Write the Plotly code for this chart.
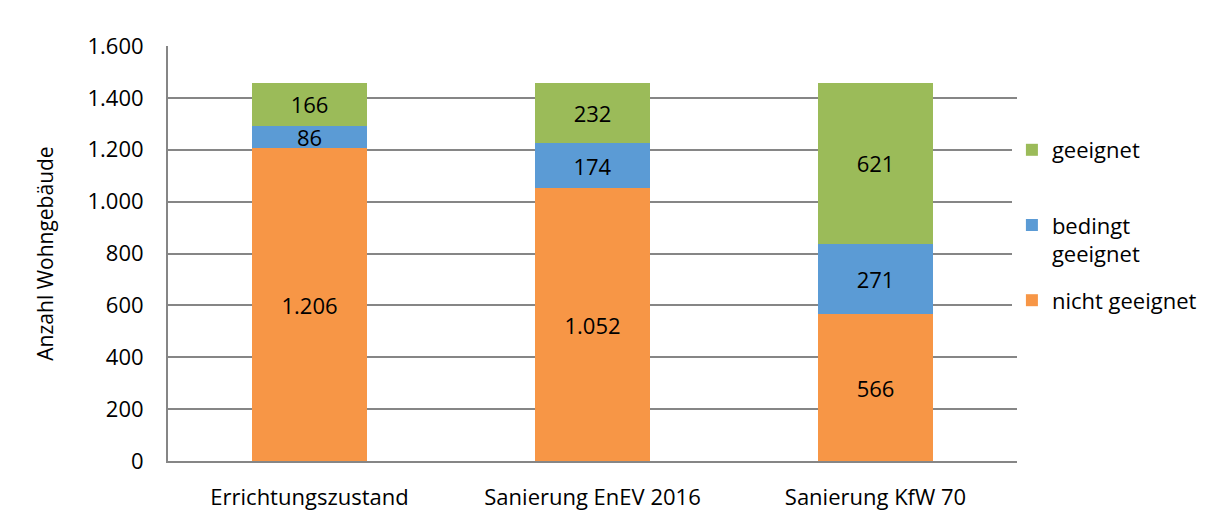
import plotly.graph_objects as go

categories = ["Errichtungszustand", "Sanierung EnEV 2016", "Sanierung KfW 70"]
nicht_geeignet = [1206, 1052, 566]
bedingt_geeignet = [86, 174, 271]
geeignet = [166, 232, 621]
y_ticks = [0, 200, 400, 600, 800, 1000, 1200, 1400, 1600]

FONT = "Open Sans"
FS = 22

def fmt(v):
    return f"{v:,}".replace(",", ".")

fig = go.Figure()
series = [
    ("nicht geeignet<br> ", nicht_geeignet, "#F79646", 3),
    ("bedingt<br>geeignet", bedingt_geeignet, "#5B9BD5", 2),
    ("geeignet<br> ", geeignet, "#9BBB59", 1),
]
for i, (name, vals, color, rank) in enumerate(series):
    fig.add_trace(go.Bar(
        x=categories, y=vals, name=name, legendgroup=f"g{i}", legendrank=rank,
        marker=dict(color=color, line=dict(width=0)),
        text=[fmt(v) for v in vals], textposition="inside",
        insidetextanchor="middle", textangle=0,
        textfont=dict(family=FONT, size=FS, color="#000000"),
        width=0.405,
    ))

W, H = 1206, 513
fig.update_layout(
    barmode="stack",
    width=W, height=H,
    margin=dict(l=160, r=W - 160 - 852, t=38, b=H - 38 - 415),
    paper_bgcolor="white", plot_bgcolor="white",
    font=dict(family=FONT, size=FS, color="#000000"),
    showlegend=True,
    legend=dict(
        traceorder="grouped", x=0.994, y=0.80, xanchor="left", yanchor="top",
        font=dict(family=FONT, size=FS), tracegroupgap=15, itemwidth=30,
        valign="top",
    ),
    uniformtext=dict(mode="show", minsize=FS),
)
fig.update_xaxes(
    showline=True, linecolor="#868686", linewidth=2, automargin=False,
    tickfont=dict(family=FONT, size=FS), ticks="", ticklabelstandoff=16,
)
fig.update_yaxes(
    range=[0, 1600], tickvals=y_ticks, ticktext=[fmt(v) for v in y_ticks],
    showgrid=True, gridcolor="#868686", gridwidth=2,
    showline=True, linecolor="#868686", linewidth=2, automargin=False,
    zeroline=False, ticks="", ticklabelstandoff=18,
    tickfont=dict(family=FONT, size=FS),
    title=dict(text="Anzahl Wohngebäude", font=dict(family=FONT, size=21), standoff=28),
)

fig.write_html("out.html")
